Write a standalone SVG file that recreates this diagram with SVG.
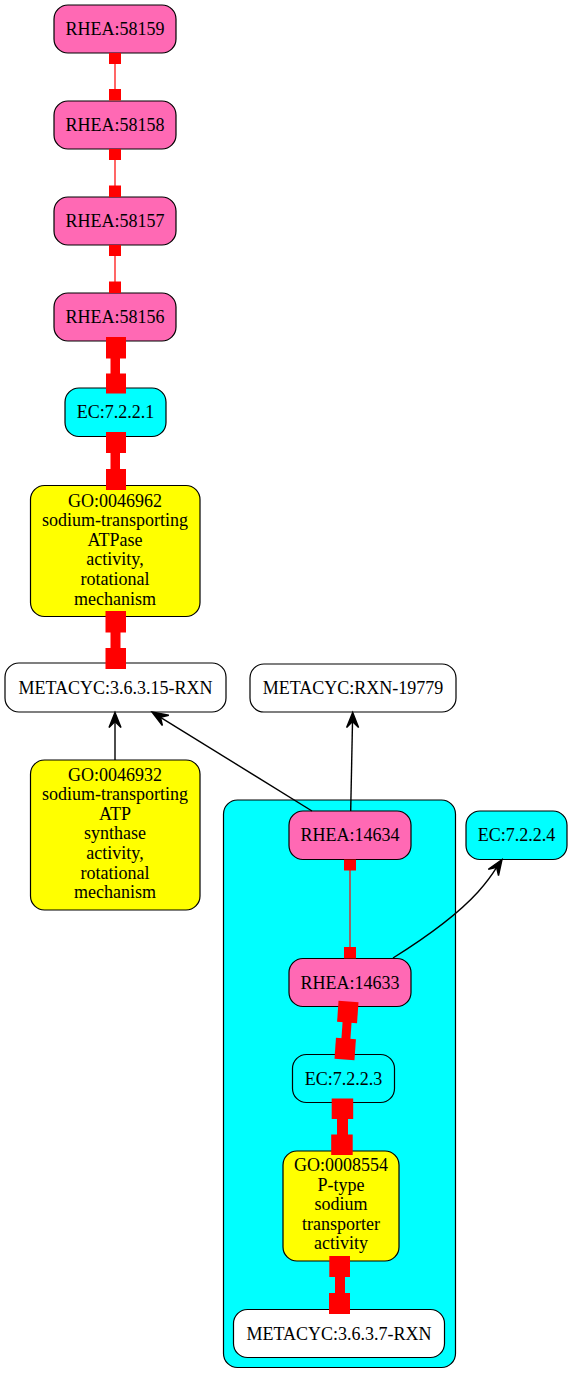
<svg xmlns="http://www.w3.org/2000/svg" width="573" height="1384" viewBox="0 0 573 1384">
<style>
.n{stroke:#000;stroke-width:1.2}
.pink{fill:#FF69B4}
.cyan{fill:#00FFFF}
.yel{fill:#FFFF00}
.wht{fill:#FFFFFF}
text{font-family:"Liberation Serif","Times New Roman",serif;font-size:18px;fill:#000;text-anchor:middle}
.rl{stroke:#FF0000;stroke-width:1.2;fill:none}
.rb{fill:#FF0000}
.bl{stroke:#000;stroke-width:1.4;fill:none}
.ah{fill:#000;stroke:#000;stroke-width:1.4;stroke-linejoin:miter}
</style>
<rect width="573" height="1384" fill="#fff"/>
<g id="cluster">
<rect x="223.5" y="800" width="232" height="567.5" rx="14" fill="#00FFFF" stroke="#000" stroke-width="1.2"/>
</g>
<g id="nodes">
<g id="RHEA58159"><rect class="n pink" x="54" y="5" width="122" height="48" rx="14"/><text x="115" y="35">RHEA:58159</text></g>
<g id="RHEA58158"><rect class="n pink" x="54" y="101" width="122" height="48" rx="14"/><text x="115" y="131">RHEA:58158</text></g>
<g id="RHEA58157"><rect class="n pink" x="54" y="197" width="122" height="48" rx="14"/><text x="115" y="227">RHEA:58157</text></g>
<g id="RHEA58156"><rect class="n pink" x="54" y="293" width="122" height="48" rx="14"/><text x="115" y="323">RHEA:58156</text></g>
<g id="EC7221"><rect class="n cyan" x="65" y="388" width="101" height="48.5" rx="14"/><text x="115.5" y="418">EC:7.2.2.1</text></g>
<g id="GO0046962"><rect class="n yel" x="30.5" y="485.5" width="169.5" height="131" rx="14"/>
<text x="115" y="506.5">GO:0046962</text><text x="115" y="526.1">sodium-transporting</text><text x="115" y="545.7">ATPase</text><text x="115" y="565.3">activity,</text><text x="115" y="584.9">rotational</text><text x="115" y="604.5">mechanism</text></g>
<g id="METACYC36315"><rect class="n wht" x="5" y="663" width="221" height="49" rx="14"/><text x="115.5" y="693.5">METACYC:3.6.3.15-RXN</text></g>
<g id="METACYCRXN19779"><rect class="n wht" x="250" y="664" width="206" height="48" rx="14"/><text x="353" y="694">METACYC:RXN-19779</text></g>
<g id="GO0046932"><rect class="n yel" x="30.5" y="760" width="169.5" height="150" rx="14"/>
<text x="115" y="780.5">GO:0046932</text><text x="115" y="800.1">sodium-transporting</text><text x="115" y="819.7">ATP</text><text x="115" y="839.3">synthase</text><text x="115" y="858.9">activity,</text><text x="115" y="878.5">rotational</text><text x="115" y="898.1">mechanism</text></g>
<g id="RHEA14634"><rect class="n pink" x="289" y="811" width="122" height="48.5" rx="14"/><text x="350" y="841">RHEA:14634</text></g>
<g id="EC7224"><rect class="n cyan" x="466" y="811" width="101" height="48.5" rx="14"/><text x="516.5" y="841">EC:7.2.2.4</text></g>
<g id="RHEA14633"><rect class="n pink" x="289" y="958.5" width="122" height="48" rx="14"/><text x="350" y="988.5">RHEA:14633</text></g>
<g id="EC7223"><rect class="n cyan" x="292.5" y="1054.5" width="102" height="48" rx="14"/><text x="343.5" y="1084.5">EC:7.2.2.3</text></g>
<g id="GO0008554"><rect class="n yel" x="283" y="1151" width="116" height="110" rx="14"/>
<text x="341" y="1171">GO:0008554</text><text x="341" y="1190.6">P-type</text><text x="341" y="1210.2">sodium</text><text x="341" y="1229.8">transporter</text><text x="341" y="1249.4">activity</text></g>
<g id="METACYC3637"><rect class="n wht" x="233.5" y="1309.5" width="211" height="48" rx="14"/><text x="339" y="1339.5">METACYC:3.6.3.7-RXN</text></g>
</g>
<g id="connectors">
<!-- thin red box-box edges -->
<line class="rl" x1="115" y1="64" x2="115" y2="89"/><rect class="rb" x="109" y="53" width="12" height="11"/><rect class="rb" x="109" y="89" width="12" height="11.5"/>
<line class="rl" x1="115" y1="160" x2="115" y2="186"/><rect class="rb" x="109" y="149" width="12" height="11"/><rect class="rb" x="109" y="185.5" width="12" height="11.5"/>
<line class="rl" x1="115" y1="256" x2="115" y2="282"/><rect class="rb" x="109" y="245" width="12" height="11"/><rect class="rb" x="109" y="281.5" width="12" height="11.5"/>
<line class="rl" x1="350" y1="870" x2="350" y2="947"/><rect class="rb" x="344" y="859.5" width="12" height="11"/><rect class="rb" x="344" y="947" width="12" height="11.5"/>
<!-- thick red edges -->
<g><rect class="rb" x="106" y="337" width="20" height="21.5"/><rect class="rb" x="110.5" y="357" width="9.5" height="18"/><rect class="rb" x="106" y="373.5" width="20" height="20"/></g>
<g><rect class="rb" x="106" y="432" width="20" height="21"/><rect class="rb" x="110.5" y="452" width="9.5" height="18"/><rect class="rb" x="106" y="469" width="20" height="21"/></g>
<g><rect class="rb" x="105.5" y="611" width="20.5" height="21.5"/><rect class="rb" x="110.5" y="631" width="10" height="18"/><rect class="rb" x="105.5" y="648" width="20.5" height="21"/></g>
<g transform="translate(346.5,1030.5) rotate(4)"><rect class="rb" x="-10" y="-29" width="20" height="21"/><rect class="rb" x="-4.5" y="-9" width="9" height="18"/><rect class="rb" x="-10" y="8" width="20" height="21"/></g>
<g><rect class="rb" x="331.7" y="1098.5" width="21.5" height="20.5"/><rect class="rb" x="337" y="1117.5" width="11" height="18.5"/><rect class="rb" x="331.2" y="1134.5" width="21.5" height="20.5"/></g>
<g><rect class="rb" x="329.3" y="1256" width="20.7" height="21"/><rect class="rb" x="335" y="1276" width="10" height="18"/><rect class="rb" x="329" y="1293" width="21" height="21"/></g>
<!-- black arrows -->
<line class="bl" x1="115" y1="760" x2="115" y2="722"/>
<polygon class="ah" points="115,712.5 121,727.5 115,721.5 109,727.5"/>
<line class="bl" x1="312" y1="811" x2="160.5" y2="717.3"/>
<polygon class="ah" points="152,712 168.8,715.3 160.5,717.3 162.4,725.5"/>
<line class="bl" x1="350.7" y1="811" x2="352.5" y2="722"/>
<polygon class="ah" points="352.7,712.5 358.6,727.6 352.5,721.5 346.6,727.4"/>
<path class="bl" d="M393,958 C425,938 458,914 478,892 C486,883 492,875 496.6,867.4"/>
<polygon class="ah" points="502,859.5 498.5,875.7 496.6,867.4 488.3,869.3"/>
</g>
</svg>
